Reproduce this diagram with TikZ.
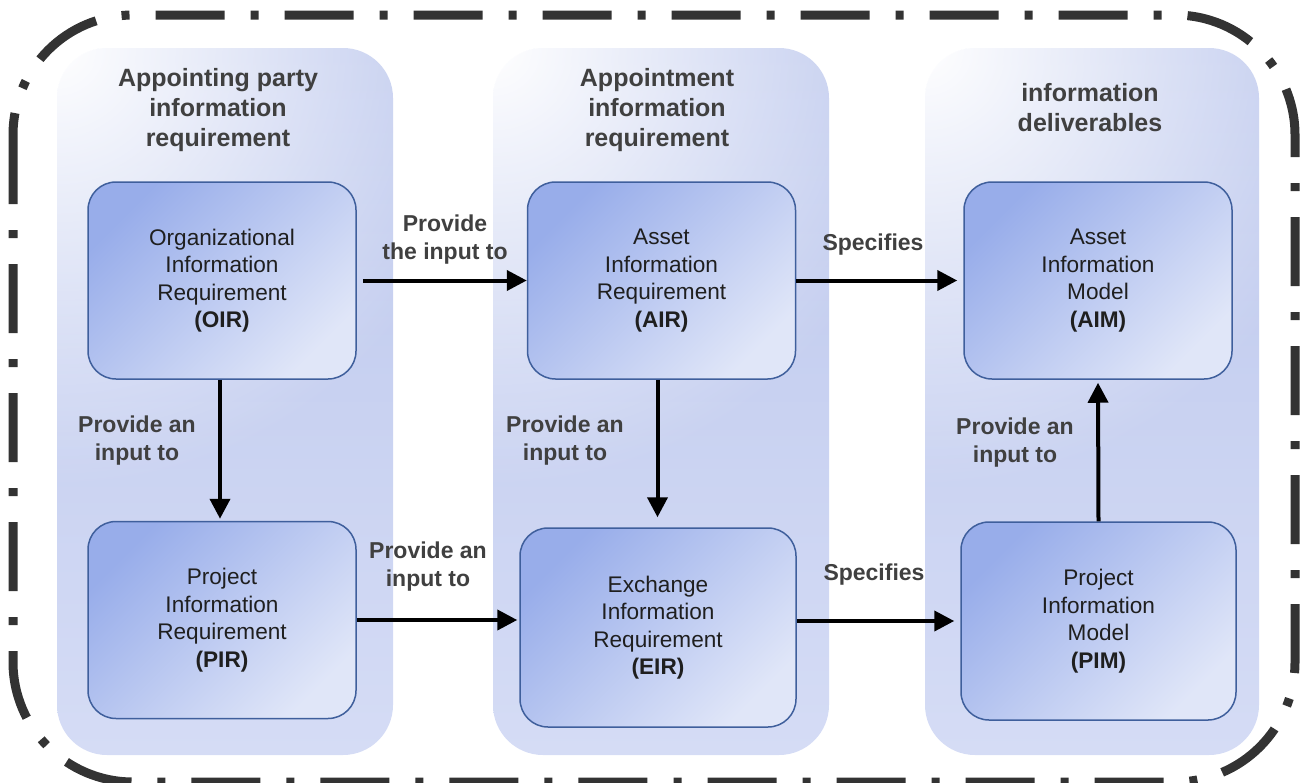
\documentclass[tikz,border=0pt]{standalone}
\usepackage{fontspec}
\setmainfont{Liberation Sans}
\usepackage{tikz}
\usetikzlibrary{positioning, arrows.meta, fadings}
\usepackage{xcolor}
\definecolor{framegray}{HTML}{333333}
\definecolor{textgray}{HTML}{404040}
\definecolor{lanetop}{HTML}{BCC7ED}
\definecolor{lanelow}{HTML}{D5DCF5}
\definecolor{boxdark}{HTML}{98ADEA}
\definecolor{boxlight}{HTML}{E0E6F8}
\definecolor{boxline}{HTML}{3F5F9C}

\tikzfading[name=glowfade, inner color=transparent!0, outer color=transparent!100]

\tikzset{
	lane/.style={rounded corners=25pt, minimum width=168pt, minimum height=353.5pt, inner sep=0pt,
		top color=lanetop, bottom color=lanelow},
	req/.style={draw=boxline, line width=0.75pt, rounded corners=14pt, minimum width=134pt, minimum height=98.5pt,
		left color=boxdark, right color=boxlight, shading angle=45, inner sep=0pt,
		align=center, text=black!88, font=\fontsize{11.3}{13.75}\selectfont},
	head/.style={align=center, inner sep=0pt, text=textgray, font=\fontsize{12.5}{15}\selectfont\bfseries},
	lbl/.style={align=center, inner sep=0pt, text=textgray, font=\fontsize{11.5}{14}\selectfont\bfseries},
	flow/.style={line width=2pt, -{Triangle[length=10pt,width=10pt]}},
}

\begin{document}
\begin{tikzpicture}[x=0.5pt, y=-0.5pt]
	\useasboundingbox (0,0) rectangle (1301,782);
	\draw[framegray, line width=4.5pt, rounded corners=60pt, dash pattern=on 34.5pt off 13pt on 4pt off 13pt]
		(13,15) rectangle (1295,782);
	
	\node[lane] (apl) at (225,401.5) {};
	\node[lane] (aptl) at (661,401.5) {};
	\node[lane, minimum width=167pt] (dell) at (1092,401.5) {};
	\foreach \l in {apl, aptl, dell} {
		\begin{scope}
			\clip[rounded corners=25pt] (\l.south west) rectangle (\l.north east);
			\fill[white, path fading=glowfade] (\l.north west) circle (220pt);
		\end{scope}
	}
	
	\node[head, below=10pt of apl.north, xshift=-3.5pt] (aplh) {Appointing party\\information\\requirement};
	\node[head, below=10pt of aptl.north, xshift=-2pt] (aptlh) {Appointment\\information\\requirement};
	\node[head, below=17.5pt of dell.north, xshift=-1pt] (dellh) {information\\deliverables};
	
	\node[req] (oir) at (222,280.5) {Organizational\\Information\\Requirement\\\textbf{(OIR)}};
	\node[req] (pir) at (222,620) {Project\\Information\\Requirement\\\textbf{(PIR)}};
	\node[req] (air) at (661.5,280.5) {Asset\\Information\\Requirement\\\textbf{(AIR)}};
	\node[req, minimum width=138pt, minimum height=99.5pt] (eir) at (658,627.5) {Exchange\\Information\\Requirement\\\textbf{(EIR)}};
	\node[req] (aim) at (1098,280.5) {Asset\\Information\\Model\\\textbf{(AIM)}};
	\node[req, minimum width=137.5pt, minimum height=99pt] (pim) at (1098.5,621) {Project\\Information\\Model\\\textbf{(PIM)}};
	
	\draw[flow, shorten <=3pt] (oir.east) -- (air.west);
	\draw[flow, shorten >=3pt] (air.east) -- (aim.west);
	\draw[flow, shorten >=1pt] ([xshift=-1pt]oir.south) -- ([xshift=-1pt]pir.north);
	\draw[flow, shorten >=5pt] ([xshift=-2pt]air.south) -- ([xshift=-2pt]air.south |- eir.north);
	\draw[flow, shorten >=1pt] (pir.east) -- (eir.west |- pir.east);
	\draw[flow, shorten >=3pt] (eir.east |- pim.west) -- (pim.west);
	\draw[flow, shorten >=1.5pt] (pim.north) -- (aim.south);
	
	\node[lbl] (oirair) at (445,240) {Provide\\the input to};
	\node[lbl] (airaim) at (873,245) {Specifies};
	\node[lbl] (oirpir) at (137,441) {Provide an\\input to};
	\node[lbl] (aireir) at (565,441) {Provide an\\input to};
	\node[lbl] (pimaim) at (1015,443) {Provide an\\input to};
	\node[lbl] (pireir) at (428,567) {Provide an\\input to};
	\node[lbl] (eirpim) at (874,575) {Specifies};
\end{tikzpicture}
\end{document}
